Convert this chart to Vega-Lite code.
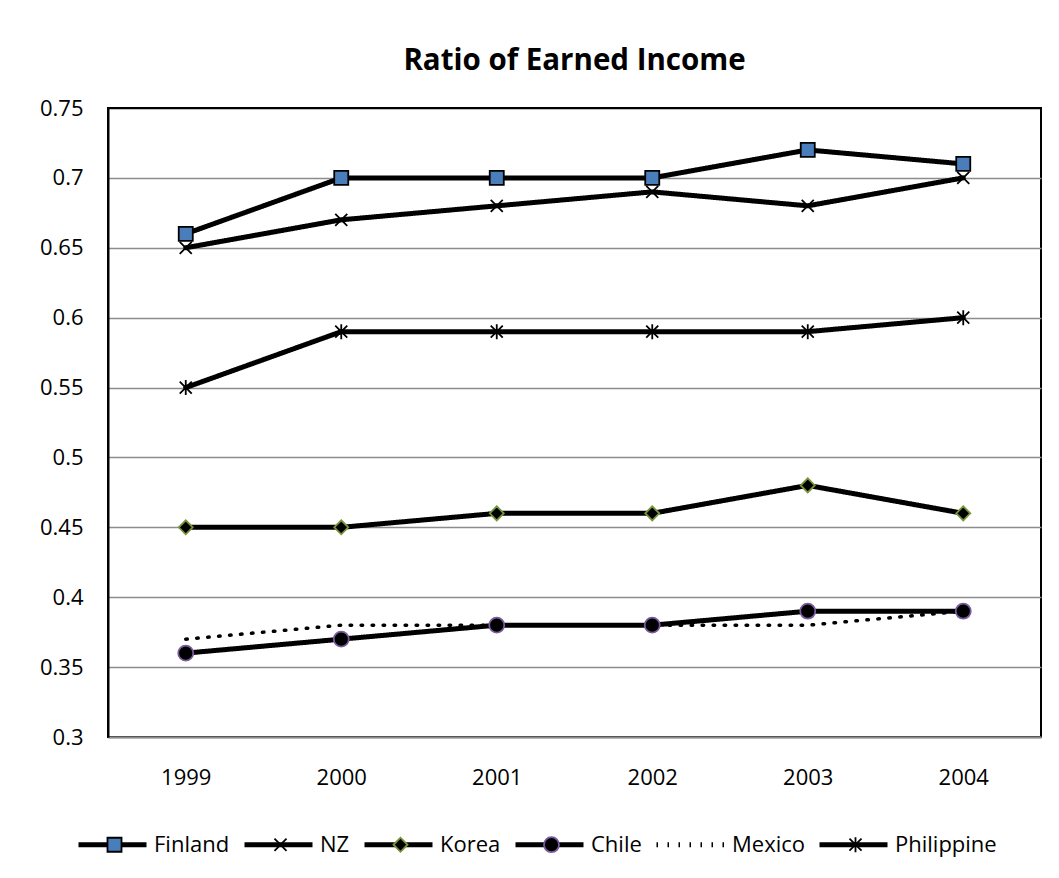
{
  "$schema": "https://vega.github.io/schema/vega-lite/v6.json",
  "autosize": {"type": "none"},
  "padding": {"left": 108, "top": 108, "right": 18, "bottom": 141},
  "width": 933,
  "height": 629,
  "background": "white",
  "title": {"text": "Ratio of Earned Income", "font": "Open Sans", "fontSize": 29.5, "fontWeight": "bold", "color": "black", "anchor": "middle", "baseline": "alphabetic", "offset": -2},
  "data": {"values": [
    {"year": "1999", "series": "Finland", "value": 0.66},
    {"year": "2000", "series": "Finland", "value": 0.70},
    {"year": "2001", "series": "Finland", "value": 0.70},
    {"year": "2002", "series": "Finland", "value": 0.70},
    {"year": "2003", "series": "Finland", "value": 0.72},
    {"year": "2004", "series": "Finland", "value": 0.71},
    {"year": "1999", "series": "NZ", "value": 0.65},
    {"year": "2000", "series": "NZ", "value": 0.67},
    {"year": "2001", "series": "NZ", "value": 0.68},
    {"year": "2002", "series": "NZ", "value": 0.69},
    {"year": "2003", "series": "NZ", "value": 0.68},
    {"year": "2004", "series": "NZ", "value": 0.70},
    {"year": "1999", "series": "Korea", "value": 0.45},
    {"year": "2000", "series": "Korea", "value": 0.45},
    {"year": "2001", "series": "Korea", "value": 0.46},
    {"year": "2002", "series": "Korea", "value": 0.46},
    {"year": "2003", "series": "Korea", "value": 0.48},
    {"year": "2004", "series": "Korea", "value": 0.46},
    {"year": "1999", "series": "Chile", "value": 0.36},
    {"year": "2000", "series": "Chile", "value": 0.37},
    {"year": "2001", "series": "Chile", "value": 0.38},
    {"year": "2002", "series": "Chile", "value": 0.38},
    {"year": "2003", "series": "Chile", "value": 0.39},
    {"year": "2004", "series": "Chile", "value": 0.39},
    {"year": "1999", "series": "Mexico", "value": 0.37},
    {"year": "2000", "series": "Mexico", "value": 0.38},
    {"year": "2001", "series": "Mexico", "value": 0.38},
    {"year": "2002", "series": "Mexico", "value": 0.38},
    {"year": "2003", "series": "Mexico", "value": 0.38},
    {"year": "2004", "series": "Mexico", "value": 0.39},
    {"year": "1999", "series": "Philippine", "value": 0.55},
    {"year": "2000", "series": "Philippine", "value": 0.59},
    {"year": "2001", "series": "Philippine", "value": 0.59},
    {"year": "2002", "series": "Philippine", "value": 0.59},
    {"year": "2003", "series": "Philippine", "value": 0.59},
    {"year": "2004", "series": "Philippine", "value": 0.60}
  ]},
  "encoding": {
    "x": {"field": "year", "type": "ordinal", "scale": {"type": "point", "padding": 0.5},
      "axis": {"title": null, "labelAngle": 0, "ticks": false, "labelPadding": 30, "labelFont": "Open Sans", "labelFontSize": 22, "labelColor": "black", "domainColor": "#8c8c8c", "domainWidth": 2, "grid": false}},
    "y": {"field": "value", "type": "quantitative", "scale": {"domain": [0.3, 0.75], "nice": false, "zero": false},
      "axis": {"title": null, "values": [0.3, 0.35, 0.4, 0.45, 0.5, 0.55, 0.6, 0.65, 0.7, 0.75], "format": ".2~f", "ticks": false, "labelPadding": 25, "labelFont": "Open Sans", "labelFontSize": 22, "labelColor": "black", "domainColor": "black", "domainWidth": 2,
        "grid": true, "gridColor": {"condition": {"test": "datum.value >= 0.745", "value": "black"}, "value": "#8c8c8c"}, "gridWidth": 1.5}}
  },
  "layer": [
    {
      "mark": {"type": "line", "color": "black", "strokeCap": "round", "strokeJoin": "round"},
      "encoding": {
        "strokeDash": {"field": "series", "type": "nominal",
          "scale": {"domain": ["Finland", "NZ", "Korea", "Chile", "Mexico", "Philippine"], "range": [[1, 0], [1, 0], [1, 0], [1, 0], [1.5, 9.5], [1, 0]]},
          "legend": {"orient": "none", "legendX": -32, "legendY": 700, "direction": "horizontal", "title": null, "symbolType": "stroke", "symbolSize": 4624, "symbolStrokeWidth": 5, "symbolStrokeColor": "black", "labelFont": "Open Sans", "labelFontSize": 22, "labelColor": "black", "labelOffset": 5, "columnPadding": 4}},
        "strokeWidth": {"condition": {"test": "datum.series === 'Mexico'", "value": 3.5}, "value": 5}
      }
    },
    {
      "mark": {"type": "point", "filled": true, "size": 5069, "strokeWidth": 1.8, "opacity": 1},
      "encoding": {
        "shape": {"field": "series", "type": "nominal",
          "scale": {"domain": ["Finland", "NZ", "Korea", "Chile", "Mexico", "Philippine", "~"], "range": [
            "M-0.197,-0.197H0.197V0.197H-0.197Z",
            "M-0.169,-0.169L0.169,0.169M-0.169,0.169L0.169,-0.169",
            "M-0.197,0L0,-0.197L0.197,0L0,0.197Z",
            "M0.211,0C0.211,0.1165 0.1165,0.211 0,0.211C-0.1165,0.211 -0.211,0.1165 -0.211,0C-0.211,-0.1165 -0.1165,-0.211 0,-0.211C0.1165,-0.211 0.211,-0.1165 0.211,0Z",
            "M0,0",
            "M-0.169,-0.169L0.169,0.169M-0.169,0.169L0.169,-0.169M0,-0.211L0,0.211",
            "M0,0"]},
          "legend": {"orient": "none", "legendX": -30, "legendY": 700, "direction": "horizontal", "title": null, "symbolSize": 5069, "symbolStrokeWidth": 1.8, "symbolOpacity": 1, "labelFont": "Open Sans", "labelFontSize": 22, "labelColor": "transparent", "labelOffset": 5, "columnPadding": 12, "labelExpr": "datum.value === '~' ? '' : datum.label"}},
        "fill": {"field": "series", "type": "nominal",
          "scale": {"domain": ["Finland", "NZ", "Korea", "Chile", "Mexico", "Philippine", "~"], "range": ["#4a7ebb", "transparent", "#000000", "#000000", "transparent", "transparent", "transparent"]},
          "legend": {"orient": "none", "legendX": -30, "legendY": 700, "direction": "horizontal", "title": null, "symbolSize": 5069, "symbolStrokeWidth": 1.8, "symbolOpacity": 1, "labelFont": "Open Sans", "labelFontSize": 22, "labelColor": "transparent", "labelOffset": 5, "columnPadding": 12, "labelExpr": "datum.value === '~' ? '' : datum.label"}},
        "stroke": {"field": "series", "type": "nominal",
          "scale": {"domain": ["Finland", "NZ", "Korea", "Chile", "Mexico", "Philippine", "~"], "range": ["#000000", "#000000", "#77933c", "#7a5c9e", "transparent", "#000000", "transparent"]},
          "legend": {"orient": "none", "legendX": -30, "legendY": 700, "direction": "horizontal", "title": null, "symbolSize": 5069, "symbolStrokeWidth": 1.8, "symbolOpacity": 1, "labelFont": "Open Sans", "labelFontSize": 22, "labelColor": "transparent", "labelOffset": 5, "columnPadding": 12, "labelExpr": "datum.value === '~' ? '' : datum.label"}}
      }
    }
  ],
  "config": {
    "view": {"stroke": "black", "strokeWidth": 2},
    "font": "Open Sans"
  }
}
